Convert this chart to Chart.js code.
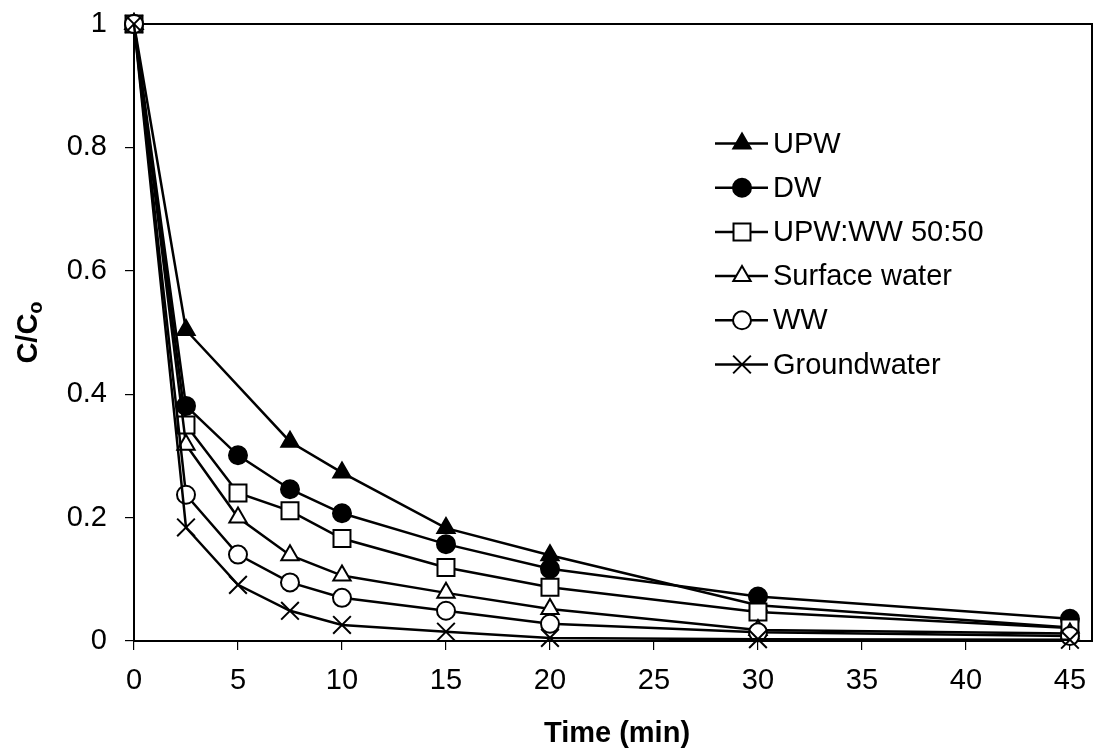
<!DOCTYPE html>
<html>
<head>
<meta charset="utf-8">
<script src="https://cdn.jsdelivr.net/npm/chart.js@4/dist/chart.umd.min.js"></script>
<style>
  html, body { margin: 0; padding: 0; background: #fff; }
  #wrap { width: 1094px; height: 756px; position: relative; }
</style>
</head>
<body>
<div id="wrap"><canvas id="c" width="1094" height="756"></canvas></div>
<script>
// ---- data ----
const times = [0, 2.5, 5, 7.5, 10, 15, 20, 30, 45];
const seriesNames = ["UPW", "DW", "UPW:WW 50:50", "Surface water", "WW", "Groundwater"];
const upw         = [1, 0.504, null, 0.323, 0.273, 0.183, 0.139, 0.058, 0.022];
const dw          = [1, 0.381, 0.301, 0.246, 0.207, 0.157, 0.117, 0.072, 0.036];
const upwWw       = [1, 0.350, 0.240, 0.211, 0.166, 0.119, 0.087, 0.047, 0.021];
const surface     = [1, 0.318, 0.200, 0.139, 0.106, 0.078, 0.052, 0.018, 0.012];
const ww          = [1, 0.237, 0.140, 0.095, 0.070, 0.049, 0.028, 0.014, 0.008];
const groundwater = [1, 0.184, 0.091, 0.049, 0.026, 0.015, 0.005, 0.003, 0.002];
const xTickValues = [0, 5, 10, 15, 20, 25, 30, 35, 40, 45];
const yTickValues = [0, 0.2, 0.4, 0.6, 0.8, 1];
const xTitle = "Time (min)";
const yTitleMain = "C/C";
const yTitleSub = "o";

const FONT = "'Liberation Sans', Arial, Helvetica, sans-serif";
const seriesValues = [upw, dw, upwWw, surface, ww, groundwater];
const styles = [
  { pointStyle: 'triangle', radius: 10, fill: '#000' },
  { pointStyle: 'circle',   radius: 9,  fill: '#000' },
  { pointStyle: 'rect',     radius: 12, fill: '#fff' },
  { pointStyle: 'triangle', radius: 10, fill: '#fff' },
  { pointStyle: 'circle',   radius: 9,  fill: '#fff' },
  { pointStyle: 'crossRot', radius: 12.5, fill: '#fff' }
];

function toPoints(vals) {
  const pts = [];
  vals.forEach((v, i) => { if (v !== null) pts.push({ x: times[i], y: v }); });
  return pts;
}

const datasets = seriesNames.map((name, i) => ({
  label: name,
  data: toPoints(seriesValues[i]),
  borderColor: '#000',
  borderWidth: 2.5,
  pointStyle: styles[i].pointStyle,
  pointRadius: styles[i].radius,
  pointBackgroundColor: styles[i].fill,
  pointBorderColor: '#000',
  pointBorderWidth: 2,
  tension: 0,
  fill: false,
  clip: false,
  order: seriesNames.length - i
}));

function drawMarker(ctx, style, radius, x, y, fillColor) {
  ctx.save();
  ctx.fillStyle = fillColor;
  ctx.strokeStyle = '#000';
  ctx.lineWidth = 2;
  ctx.beginPath();
  if (style === 'circle') {
    ctx.arc(x, y, radius, 0, Math.PI * 2);
    ctx.closePath(); ctx.fill(); ctx.stroke();
  } else if (style === 'rect') {
    const s = Math.SQRT1_2 * radius;
    ctx.rect(x - s, y - s, 2 * s, 2 * s);
    ctx.fill(); ctx.stroke();
  } else if (style === 'triangle') {
    let rad = 0;
    ctx.moveTo(x + Math.sin(rad) * radius, y - Math.cos(rad) * radius);
    rad += 2 * Math.PI / 3;
    ctx.lineTo(x + Math.sin(rad) * radius, y - Math.cos(rad) * radius);
    rad += 2 * Math.PI / 3;
    ctx.lineTo(x + Math.sin(rad) * radius, y - Math.cos(rad) * radius);
    ctx.closePath(); ctx.fill(); ctx.stroke();
  } else if (style === 'crossRot') {
    const o = Math.cos(Math.PI / 4) * radius;
    ctx.moveTo(x - o, y - o); ctx.lineTo(x + o, y + o);
    ctx.moveTo(x - o, y + o); ctx.lineTo(x + o, y - o);
    ctx.stroke();
  }
  ctx.restore();
}

function zeroPadding(s) {
  s.paddingLeft = 0; s.paddingRight = 0; s.paddingTop = 0; s.paddingBottom = 0;
}

const framePlugin = {
  id: 'frame',
  beforeDatasetsDraw(chart) {
    const { ctx, chartArea: a } = chart;
    ctx.save();
    ctx.strokeStyle = '#000';
    ctx.lineWidth = 2;
    ctx.strokeRect(a.left, a.top, a.right - a.left, a.bottom - a.top);
    ctx.restore();
  },
  afterDraw(chart) {
    const { ctx, chartArea: a } = chart;
    ctx.save();
    // x-axis title
    ctx.fillStyle = '#000';
    ctx.font = "bold 29px " + FONT;
    ctx.textAlign = 'center';
    ctx.textBaseline = 'alphabetic';
    ctx.fillText(xTitle, 617, 742);
    // y-axis title with subscript
    ctx.translate(37, (a.top + a.bottom) / 2);
    ctx.rotate(-Math.PI / 2);
    ctx.font = "bold 29px " + FONT;
    const w1 = ctx.measureText(yTitleMain).width;
    ctx.font = "bold 20px " + FONT;
    const w2 = ctx.measureText(yTitleSub).width;
    const start = -(w1 + w2) / 2;
    ctx.textAlign = 'left';
    ctx.font = "bold 29px " + FONT;
    ctx.fillText(yTitleMain, start, 0);
    ctx.font = "bold 20px " + FONT;
    ctx.fillText(yTitleSub, start + w1, 5);
    ctx.restore();

    // legend
    ctx.save();
    const lx0 = 715, lx1 = 768, mx = 742, tx = 773, y0 = 143.5, dy = 44.2;
    seriesNames.forEach((name, i) => {
      const y = y0 + dy * i;
      ctx.strokeStyle = '#000';
      ctx.lineWidth = 2.5;
      ctx.beginPath();
      ctx.moveTo(lx0, y); ctx.lineTo(lx1, y);
      ctx.stroke();
      drawMarker(ctx, styles[i].pointStyle, styles[i].radius, mx, y, styles[i].fill);
      ctx.fillStyle = '#000';
      ctx.font = "29px " + FONT;
      ctx.textAlign = 'left';
      ctx.textBaseline = 'middle';
      ctx.fillText(name, tx, y + 1);
    });
    ctx.restore();
  }
};

new Chart(document.getElementById('c'), {
  type: 'line',
  data: { datasets },
  plugins: [framePlugin],
  options: {
    responsive: false,
    devicePixelRatio: 1,
    animation: false,
    events: [],
    layout: { autoPadding: false, padding: { top: 24, right: 2, left: 0, bottom: 0 } },
    plugins: { legend: { display: false }, tooltip: { enabled: false }, title: { display: false } },
    scales: {
      x: {
        type: 'linear',
        min: 0,
        max: 46.06,
        afterBuildTicks(s) { s.ticks = xTickValues.map(v => ({ value: v })); },
        afterFit(s) { s.height = 115; zeroPadding(s); },
        ticks: { color: '#000', font: { family: FONT, size: 29 }, padding: 14, maxRotation: 0, autoSkip: false,
                 callback: v => String(v) },
        grid: { drawOnChartArea: false, drawTicks: true, tickLength: 9, color: '#000', lineWidth: 1.2 },
        border: { display: true, color: '#000', width: 2 }
      },
      y: {
        type: 'linear',
        min: 0,
        max: 1,
        afterBuildTicks(s) { s.ticks = yTickValues.map(v => ({ value: v })); },
        afterFit(s) { s.width = 134; zeroPadding(s); },
        ticks: { color: '#000', font: { family: FONT, size: 29 }, padding: 18, autoSkip: false,
                 callback: v => String(Math.round(v * 10) / 10) },
        grid: { drawOnChartArea: false, drawTicks: true, tickLength: 9, color: '#000', lineWidth: 1.2 },
        border: { display: true, color: '#000', width: 2 }
      }
    }
  }
});
</script>
</body>
</html>
